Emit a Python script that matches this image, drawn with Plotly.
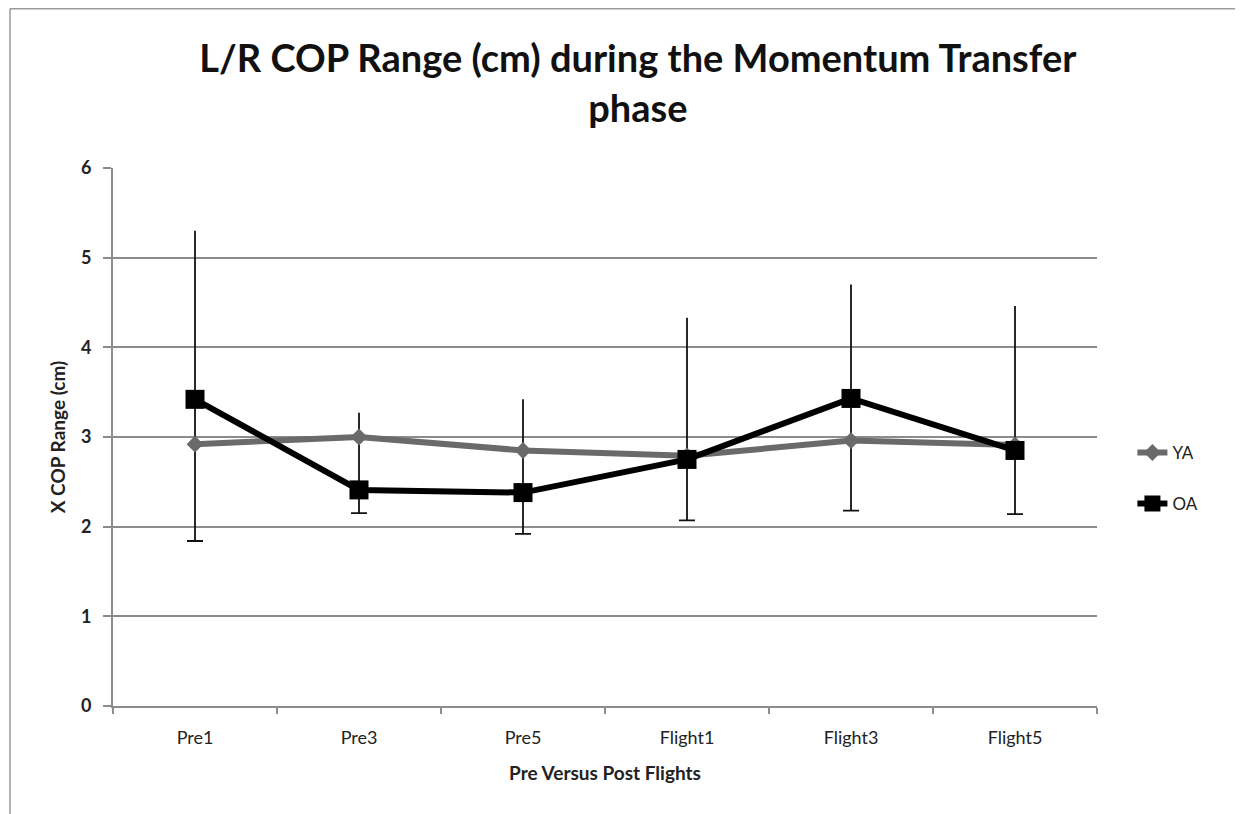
import plotly.graph_objects as go

phases = ["Pre1", "Pre3", "Pre5", "Flight1", "Flight3", "Flight5"]

# group means (cm)
ya = [2.92, 3.00, 2.85, 2.79, 2.96, 2.91]
oa = [3.42, 2.41, 2.38, 2.75, 3.43, 2.85]

# error bar extents
err_top = [5.30, 3.27, 3.42, 4.33, 4.70, 4.46]
err_bottom = [1.84, 2.15, 1.92, 2.07, 2.18, 2.14]

up = [t - m for t, m in zip(err_top, oa)]
down = [m - b for m, b in zip(oa, err_bottom)]

fig = go.Figure()

# upper whiskers (no cap) and lower whiskers (with cap)
fig.add_scatter(x=phases, y=oa, mode="lines", line=dict(width=0), showlegend=False,
                hoverinfo="skip",
                error_y=dict(type="data", symmetric=False, array=up,
                             arrayminus=[0] * len(up), color="#111", thickness=1.8, width=0))
fig.add_scatter(x=phases, y=oa, mode="lines", line=dict(width=0), showlegend=False,
                hoverinfo="skip",
                error_y=dict(type="data", symmetric=False, array=[0] * len(down),
                             arrayminus=down, color="#111", thickness=1.8, width=8))

fig.add_scatter(x=phases, y=ya, name="YA", mode="lines+markers", legendgroup="ya",
                line=dict(color="#6a6a6a", width=6),
                marker=dict(symbol="diamond", size=13, color="#6a6a6a"))
fig.add_scatter(x=phases, y=oa, name="OA", mode="lines+markers", legendgroup="oa",
                line=dict(color="#000000", width=6),
                marker=dict(symbol="square", size=19, color="#000000"))

grey = "#8c8c8c"
fig.update_xaxes(type="category", range=[-0.5, 5.5], showline=True, linecolor=grey,
                 linewidth=2, ticks="outside", tickson="boundaries", ticklen=6,
                 tickcolor=grey, tickwidth=1.5, showgrid=False, ticklabelstandoff=14,
                 tickfont=dict(family="Lato", size=18, color="#222"),
                 title=dict(text="<b>Pre Versus Post Flights</b>", standoff=20,
                            font=dict(family="Lato", size=19, color="#222")))
fig.update_yaxes(range=[0, 6], dtick=1, showline=True, linecolor=grey, linewidth=2,
                 ticks="outside", ticklen=8, tickcolor=grey, tickwidth=1.5,
                 showgrid=True, gridcolor=grey, gridwidth=1.5, zeroline=False,
                 ticklabelstandoff=8,
                 tickfont=dict(family="Lato", size=18, color="#222", weight="bold"),
                 title=dict(text="<b>X COP Range (cm)</b>", standoff=10,
                            font=dict(family="Lato", size=19, color="#222")))

# outer chart frame (left and top edges)
fig.add_shape(type="line", xref="paper", yref="paper", x0=-0.1047, x1=-0.1047,
              y0=1.296, y1=-0.22, line=dict(color="#9a9a9a", width=1.5))
fig.add_shape(type="line", xref="paper", yref="paper", x0=-0.1047, x1=1.2,
              y0=1.296, y1=1.296, line=dict(color="#9a9a9a", width=1.5))

fig.update_layout(
    width=1235, height=806,
    margin=dict(l=105, r=146, t=160, b=108),
    paper_bgcolor="white", plot_bgcolor="white",
    title=dict(text="<b>L/R COP Range (cm) during the Momentum Transfer<br>phase</b>",
               x=0.51, xanchor="center", y=0.92, yanchor="middle",
               font=dict(family="Lato", size=38, color="#111")),
    legend=dict(x=1.036, y=0.423, xanchor="left", yanchor="middle",
                traceorder="grouped", tracegroupgap=26,
                font=dict(family="Lato", size=17, color="#222"),
                bgcolor="rgba(0,0,0,0)"),
    showlegend=True,
)

fig.write_html("out.html")
